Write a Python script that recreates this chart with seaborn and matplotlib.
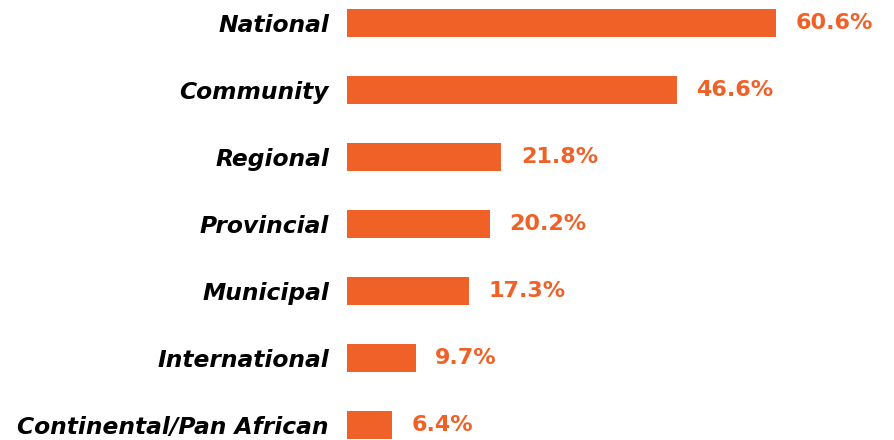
import matplotlib
matplotlib.use("Agg")
import matplotlib.pyplot as plt
import seaborn as sns
import pandas as pd

categories = ["National", "Community", "Regional", "Provincial", "Municipal",
              "International", "Continental/Pan African"]
values = [60.6, 46.6, 21.8, 20.2, 17.3, 9.7, 6.4]

ORANGE = "#F06127"

sns.set_theme(style="white")
plt.rcParams['font.family'] = ['DejaVu Sans']

df = pd.DataFrame({"category": categories, "value": values})

fig = plt.figure(figsize=(8.95, 4.4), dpi=100)
ax = fig.add_axes([347 / 895, 0, 1 - 347 / 895, 1])
sns.barplot(data=df, x="value", y="category", color=ORANGE, saturation=1,
            width=0.42, ax=ax, orient="h", linewidth=0)

ax.set_xlim(0, (895 - 347) / 7.08)
ax.set_ylim(6 + 15 / 67.0, -23 / 67.0)
ax.set_xlabel("")
ax.set_ylabel("")
ax.set_xticks([])
for s in ax.spines.values():
    s.set_visible(False)
ax.tick_params(axis="y", length=0, pad=13)
for lab in ax.get_yticklabels():
    lab.set_fontsize(16.8)
    lab.set_fontweight("bold")
    lab.set_fontstyle("oblique")
    lab.set_color("black")

for i, v in enumerate(values):
    ax.annotate(f"{v:.1f}%", xy=(v, i), xytext=(14, 0), textcoords="offset points",
                va="center", ha="left", fontsize=16, fontweight="bold",
                color=ORANGE)

fig.savefig("out.png", dpi=100)
